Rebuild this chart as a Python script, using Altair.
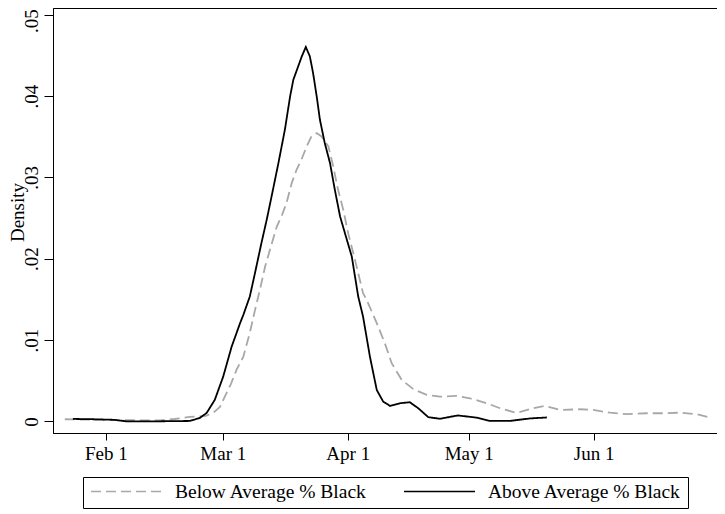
import altair as alt
import pandas as pd

series_names = ["Below Average % Black", "Above Average % Black"]

# days after Feb 1, 2020
below_days = [-10.2, -5, -1.5, 6, 13.4, 17, 20.8, 24.8, 26.6, 28.3, 29.5, 31, 32.4, 34.1,
              35.7, 37, 38.2, 39.5, 40.7, 42.4, 43.7, 44.8, 46.1, 47.3, 48.5, 49.8, 51,
              52.3, 53.5, 55.2, 56.4, 57.6, 58.9, 60.1, 61.8, 63.8, 64.7, 67.2, 69.2, 70.9,
              73.4, 76.3, 79.6, 82.9, 87, 90.3, 94.5, 97.8, 101.9, 106, 108.9, 112.7, 117.6,
              120.9, 125.1, 129.2, 134.2, 139.1, 142.4, 146.6, 149.9]
below_density = [0.00027, 0.00023, 0.0002, 0.00015, 0.00012, 0.0003, 0.00055, 0.00068, 0.00105,
                 0.00178, 0.00305, 0.0046, 0.00633, 0.00797, 0.01089, 0.01371, 0.01617, 0.01904,
                 0.0211, 0.02396, 0.0254, 0.02684, 0.0293, 0.03093, 0.03217, 0.0338, 0.03503,
                 0.03545, 0.03503, 0.0338, 0.03134, 0.02847, 0.02601, 0.02315, 0.01986, 0.01577,
                 0.01494, 0.01208, 0.00962, 0.00716, 0.0051, 0.00396, 0.00326, 0.00305, 0.00314,
                 0.00285, 0.00224, 0.00162, 0.00105, 0.00162, 0.00191, 0.00141, 0.0015, 0.00141,
                 0.00108, 0.00089, 0.00101, 0.00101, 0.00108, 0.00089, 0.00047]

above_days = [-8.2, -4, -1.5, 2, 5, 13.4, 20.8, 23.3, 25, 27, 29.1, 31.2, 33.3, 34.1, 35.7,
              37, 38.6, 39.9, 41.1, 42.8, 44.4, 45.7, 46.5, 47.7, 48.6, 49.6, 50.6, 51.4,
              52.3, 53.1, 54.3, 55.6, 56.8, 58.1, 59.3, 61, 61.8, 62.6, 63.8, 65.5, 67.2,
              68.8, 70.5, 73, 75.4, 77.5, 80, 82.9, 87.3, 92, 95.3, 100.2, 105.2, 109.4]
above_density = [0.00031, 0.00028, 0.00025, 0.0002, 0.00002, 0.00002, 0.00006, 0.00043, 0.00105,
                 0.00264, 0.00551, 0.0092, 0.0121, 0.0131, 0.01535, 0.01827, 0.02196, 0.0248,
                 0.02765, 0.03176, 0.03585, 0.03995, 0.042, 0.04364, 0.04487, 0.04603, 0.04487,
                 0.04283, 0.03995, 0.03708, 0.03422, 0.03176, 0.02847, 0.02519, 0.02315, 0.02027,
                 0.01781, 0.01535, 0.01289, 0.00797, 0.00387, 0.00244, 0.00191, 0.00224, 0.00236,
                 0.00162, 0.00052, 0.00033, 0.00074, 0.00047, 0.00006, 0.00006, 0.00037, 0.00049]

x_tick_months = [2, 3, 4, 5, 6]
x_tick_labels = ["Feb 1", "Mar 1", "Apr 1", "May 1", "Jun 1"]
y_ticks = [0, 0.01, 0.02, 0.03, 0.04, 0.05]

start = pd.Timestamp("2020-02-01")


def to_dates(days):
    return [start + pd.Timedelta(days=d) for d in days]


df = pd.concat([
    pd.DataFrame({"date": to_dates(below_days), "density": below_density, "series": series_names[0]}),
    pd.DataFrame({"date": to_dates(above_days), "density": above_density, "series": series_names[1]}),
])

label_expr = " : ".join(
    f"month(datum.value) == {m - 1} ? '{lab}'" for m, lab in zip(x_tick_months, x_tick_labels)
) + " : ''"

FONT = "Liberation Serif"

legend = alt.Legend(
    title=None, orient="none", legendX=30, legendY=469, direction="horizontal",
    symbolType="stroke", symbolSize=5041, symbolStrokeWidth=1.5,
    labelFont=FONT, labelFontSize=19.5, labelColor="black", labelOffset=12,
    columnPadding=36, padding=7, strokeColor="black", fillColor="white",
    clipHeight=15, labelLimit=400,
)

chart = alt.Chart(df).mark_line(strokeWidth=1.8).encode(
    x=alt.X("date:T",
            scale=alt.Scale(domain=[alt.DateTime(year=2020, month=1, date=18, hours=21),
                                    alt.DateTime(year=2020, month=7, date=1, hours=14, minutes=40)],
                            nice=False),
            axis=alt.Axis(values=[alt.DateTime(year=2020, month=m, date=1) for m in x_tick_months],
                          labelExpr=label_expr, title=None, tickSize=7, labelPadding=4,
                          labelFontSize=19)),
    y=alt.Y("density:Q",
            scale=alt.Scale(domain=[-0.00142, 0.05082], nice=False, zero=False),
            axis=alt.Axis(values=y_ticks, title="Density", tickSize=9, labelPadding=3,
                          labelAngle=270, labelAlign="center", labelBaseline="bottom",
                          labelOffset={"condition": {"test": "datum.value >= 0.049", "value": 6},
                                       "value": 0},
                          labelExpr="datum.value == 0 ? '0' : substring(format(datum.value, '.2f'), 1)",
                          labelFontSize=19, titleFontSize=19, titleX=-26, titleY=204)),
    color=alt.Color("series:N", scale=alt.Scale(domain=series_names, range=["#a8a8a8", "#000000"]),
                    legend=legend),
    strokeDash=alt.StrokeDash("series:N", scale=alt.Scale(domain=series_names, range=[[10, 5], [1, 0]]),
                              legend=legend),
).properties(
    width=664, height=425,
    padding={"left": 45, "top": 0, "right": 0, "bottom": 80},
    autosize=alt.AutoSizeParams(type="none"),
).configure_view(
    stroke="black", strokeWidth=1
).configure_axis(
    labelFont=FONT, titleFont=FONT, labelColor="black", titleColor="black",
    titleFontWeight="normal", domainColor="black", tickColor="black", grid=False,
)

chart.save("out.html", embed_options={"renderer": "svg", "actions": False})
